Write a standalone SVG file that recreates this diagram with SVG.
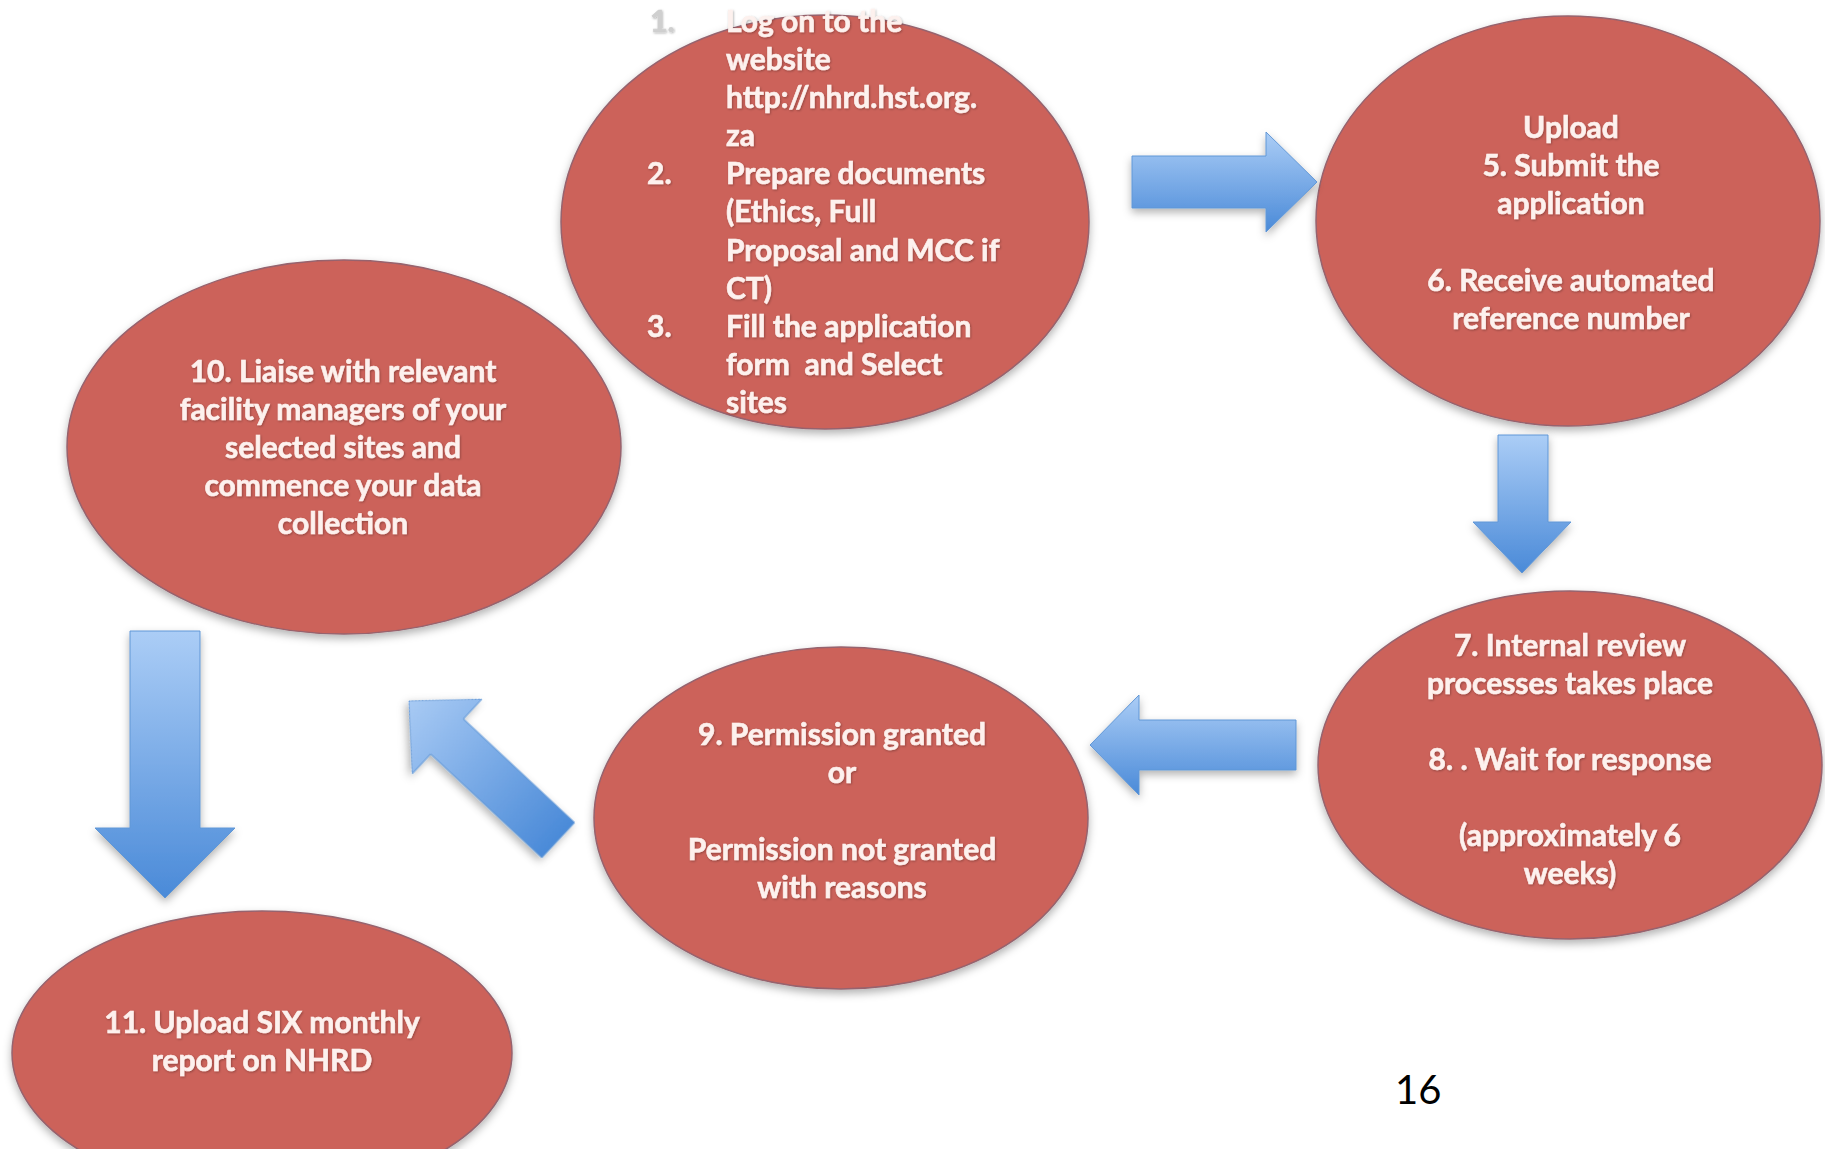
<svg xmlns="http://www.w3.org/2000/svg" width="1825" height="1149" viewBox="0 0 1825 1149">
<defs>
  <linearGradient id="gv" x1="0" y1="0" x2="0" y2="1">
    <stop offset="0" stop-color="#abcdf6"/>
    <stop offset="1" stop-color="#4a8ad8"/>
  </linearGradient>
  <linearGradient id="gh" x1="0" y1="0" x2="1" y2="0">
    <stop offset="0" stop-color="#a8caf4"/>
    <stop offset="1" stop-color="#4a8ad8"/>
  </linearGradient>
  <filter id="sh" x="-10%" y="-10%" width="120%" height="130%">
    <feDropShadow dx="0" dy="4" stdDeviation="4" flood-color="#000" flood-opacity="0.3"/>
  </filter>
  <filter id="tsh" x="-5%" y="-20%" width="110%" height="150%">
    <feDropShadow dx="0.8" dy="1" stdDeviation="0.8" flood-color="#000" flood-opacity="0.3"/>
  </filter>
</defs>
<style>
  .node ellipse { fill:#cc625a; stroke:#96636e; stroke-width:1.5; filter:url(#sh); }
  .t { font-family: Lato, "Liberation Sans", sans-serif; font-weight:700; font-size:30px; fill:#fdf1ee; stroke:#fdf1ee; stroke-width:0.6; filter:url(#tsh); }
  .c { text-anchor:middle; }
  .arrow { stroke:#6197d6; stroke-width:1; filter:url(#sh); }
  .num { font-family: Lato, "Liberation Sans", sans-serif; font-size:40px; fill:#000; }
</style>
<rect x="0" y="0" width="1825" height="1149" fill="#ffffff"/>

<g id="node-steps-1-3" class="node">
  <ellipse cx="825" cy="222" rx="264" ry="207"/>
  <text class="t" x="650" y="32" style="fill:#cfcfcf;stroke:#cfcfcf">1.</text>
  <text class="t" x="726" y="32">Log on to the</text>
  <text class="t" x="726" y="70">website</text>
  <text class="t" x="726" y="108">http://nhrd.hst.org.</text>
  <text class="t" x="726" y="146">za</text>
  <text class="t" x="647" y="184">2.</text>
  <text class="t" x="726" y="184">Prepare documents</text>
  <text class="t" x="726" y="222">(Ethics, Full</text>
  <text class="t" x="726" y="261">Proposal and MCC if</text>
  <text class="t" x="726" y="299">CT)</text>
  <text class="t" x="647" y="337">3.</text>
  <text class="t" x="726" y="337">Fill the application</text>
  <text class="t" x="726" y="375" xml:space="preserve">form  and Select</text>
  <text class="t" x="726" y="413">sites</text>
</g>

<g id="node-steps-5-6" class="node">
  <ellipse cx="1568" cy="221" rx="252" ry="205"/>
  <text class="t c" x="1571" y="138">Upload</text>
  <text class="t c" x="1571" y="176">5. Submit the</text>
  <text class="t c" x="1571" y="214">application</text>
  <text class="t c" x="1571" y="291">6. Receive automated</text>
  <text class="t c" x="1571" y="329">reference number</text>
</g>

<g id="node-step-10" class="node">
  <ellipse cx="344" cy="447" rx="277" ry="187"/>
  <text class="t c" x="343" y="382">10. Liaise with relevant</text>
  <text class="t c" x="343" y="420">facility managers of your</text>
  <text class="t c" x="343" y="458">selected sites and</text>
  <text class="t c" x="343" y="496">commence your data</text>
  <text class="t c" x="343" y="534">collection</text>
</g>

<g id="node-steps-7-8" class="node">
  <ellipse cx="1570" cy="765" rx="252" ry="174"/>
  <text class="t c" x="1570" y="656">7. Internal review</text>
  <text class="t c" x="1570" y="694">processes takes place</text>
  <text class="t c" x="1570" y="770">8. . Wait for response</text>
  <text class="t c" x="1570" y="846">(approximately 6</text>
  <text class="t c" x="1570" y="884">weeks)</text>
</g>

<g id="node-step-9" class="node">
  <ellipse cx="841" cy="818" rx="247" ry="171"/>
  <text class="t c" x="842" y="745">9. Permission granted</text>
  <text class="t c" x="842" y="783">or</text>
  <text class="t c" x="842" y="860">Permission not granted</text>
  <text class="t c" x="842" y="898">with reasons</text>
</g>

<g id="node-step-11" class="node">
  <ellipse cx="262" cy="1053" rx="250" ry="142"/>
  <text class="t c" x="262" y="1033">11. Upload SIX monthly</text>
  <text class="t c" x="262" y="1071">report on NHRD</text>
</g>

<g id="connectors">
  <polygon class="arrow" fill="url(#gv)" points="1132,156 1266,156 1266,132 1317,182 1266,232 1266,208 1132,208"/>
  <polygon class="arrow" fill="url(#gv)" points="1498,435 1548,435 1548,522 1571,522 1522,573 1473,522 1498,522"/>
  <polygon class="arrow" fill="url(#gv)" points="1296,720 1139,720 1139,695 1090,745 1139,795 1139,770 1296,770"/>
  <g transform="translate(409,701) rotate(43)">
    <polygon class="arrow" fill="url(#gh)" points="0,0 52,-51 52,-24 204,-24 204,24 52,24 52,51"/>
  </g>
  <polygon class="arrow" fill="url(#gv)" points="130,631 200,631 200,828 235,828 165,898 95,828 130,828"/>
</g>

<text id="page-number" class="num" x="1395" y="1104">16</text>
</svg>
